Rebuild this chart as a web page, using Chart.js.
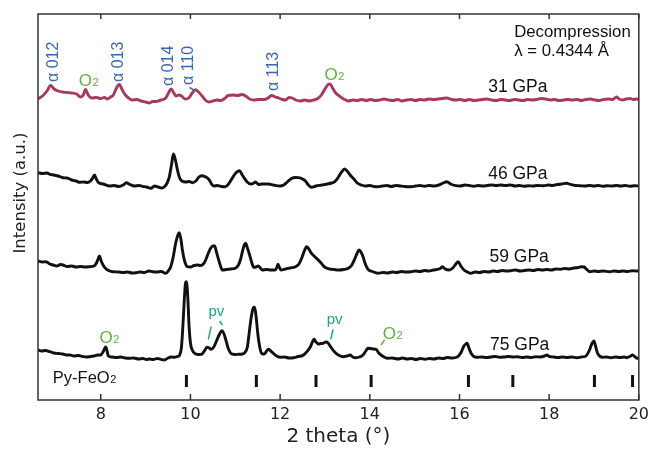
<!DOCTYPE html>
<html lang="en">
<head>
<meta charset="UTF-8">
<title>Py-FeO2 decompression XRD</title>
<script src="https://cdn.jsdelivr.net/npm/chart.js"></script>
<style>
    body { margin: 0; background: #fff; }
    .chart-box { width: 654px; height: 449px; }
</style>
</head>
<body>
<div class="chart-box"><canvas id="xrdChart"></canvas></div>
<script>
// each pattern: [2 theta, intensity above its own baseline]
const p31 = [[6.60,1],[6.70,4],[6.80,9],[6.88,14.5],[6.96,11],[7.05,9],[7.15,8],[7.25,7.5],[7.35,7],[7.46,6],[7.55,3],[7.61,5],[7.66,10.5],[7.72,5],[7.80,2],[7.90,2.5],[8.00,1.5],[8.08,2.5],[8.15,1],[8.22,3],[8.28,5],[8.34,11],[8.41,15.5],[8.48,10],[8.55,5],[8.62,2],[8.70,0],[8.80,0.5],[8.90,-1],[9.00,-2],[9.08,-3],[9.16,-1.5],[9.24,-1.5],[9.34,0],[9.44,1.5],[9.51,7],[9.57,11],[9.63,7],[9.68,4],[9.74,5],[9.80,4],[9.88,1],[9.96,2],[10.04,7],[10.11,10.3],[10.18,8],[10.26,4],[10.33,0],[10.41,-2],[10.50,-1],[10.59,0],[10.68,-0.5],[10.76,1.5],[10.84,4.5],[10.95,5],[11.05,4.5],[11.15,5.5],[11.23,4],[11.32,1],[11.41,0],[11.52,0.5],[11.64,0.5],[11.73,2],[11.81,4.5],[11.89,3],[11.97,2],[12.05,0.5],[12.12,0],[12.20,2.5],[12.27,2],[12.35,0],[12.45,-1],[12.55,0],[12.65,-1],[12.75,0],[12.84,1.5],[12.92,5],[13.00,11],[13.07,15.5],[13.11,16],[13.17,12],[13.24,7],[13.32,4],[13.42,1],[13.52,-1],[13.62,0],[13.72,-0.5],[13.82,0.5],[13.92,-0.5],[14.02,0.5],[14.12,-0.5],[14.22,0],[14.32,1],[14.42,0],[14.52,-0.5],[14.62,0.5],[14.72,-1],[14.82,0],[14.92,0.5],[15.02,-0.5],[15.12,0.5],[15.22,0],[15.32,1],[15.42,0.5],[15.52,1],[15.62,1.5],[15.72,2],[15.82,0.5],[15.92,0],[16.02,0.5],[16.12,-0.5],[16.22,0.5],[16.32,-0.5],[16.42,0],[16.52,0.5],[16.62,1],[16.72,0],[16.82,-0.5],[16.92,0.5],[17.02,0],[17.12,-0.5],[17.22,0.5],[17.32,0],[17.42,-0.5],[17.52,0.5],[17.62,0],[17.72,0.5],[17.82,1.5],[17.92,1],[18.02,0],[18.12,0.5],[18.22,-0.5],[18.32,0],[18.42,0.5],[18.52,0],[18.62,0.5],[18.72,-0.5],[18.82,0.5],[18.92,1],[19.02,0],[19.12,-0.5],[19.22,0.5],[19.32,1],[19.42,0.5],[19.50,3],[19.56,1],[19.64,0],[19.72,1],[19.80,1.5],[19.88,0.5],[19.95,1],[20.00,0.5]];

const p46 = [[6.60,13.3],[6.70,12.5],[6.80,13],[6.87,11.7],[6.95,11],[7.05,10],[7.16,8.3],[7.25,8],[7.35,6],[7.45,5],[7.53,3.7],[7.62,4],[7.70,3.5],[7.77,5],[7.82,8],[7.86,11],[7.90,7],[7.95,3.3],[8.05,2],[8.20,0],[8.30,0.5],[8.40,-0.5],[8.50,1],[8.57,3.3],[8.65,1.5],[8.75,0],[8.85,0.5],[8.93,-0.3],[9.02,-1],[9.12,-2.3],[9.20,0],[9.28,-1],[9.36,-2],[9.42,-0.7],[9.48,3],[9.53,9.3],[9.58,22],[9.62,32],[9.66,27],[9.71,16],[9.76,8],[9.81,5],[9.90,4],[9.97,4.5],[10.04,3.3],[10.12,5],[10.19,9],[10.25,10.3],[10.32,9.5],[10.41,6.7],[10.47,2],[10.52,0],[10.60,0.5],[10.70,-0.5],[10.78,-0.7],[10.85,2],[10.93,7.7],[11.01,13],[11.09,15.3],[11.17,10],[11.26,4.3],[11.34,2],[11.40,2.5],[11.45,4],[11.52,1.5],[11.60,2],[11.74,2],[11.85,1],[12.00,0],[12.08,1],[12.16,4],[12.26,7.7],[12.34,8.5],[12.41,8.3],[12.50,7],[12.56,5.3],[12.63,1],[12.70,-1.3],[12.80,0],[12.93,1],[13.05,2],[13.15,3],[13.22,4.3],[13.30,9],[13.37,14],[13.44,17],[13.51,14],[13.58,10],[13.63,7.7],[13.72,3],[13.81,1],[13.90,0],[14.00,0.5],[14.10,-0.5],[14.18,-0.7],[14.28,0],[14.38,0.5],[14.48,-0.5],[14.58,0.5],[14.68,0],[14.78,-0.5],[14.92,-0.7],[15.02,0],[15.12,0.5],[15.22,-0.3],[15.32,0.5],[15.44,0],[15.54,1],[15.64,3],[15.72,4.3],[15.80,2],[15.92,0.3],[16.02,0],[16.12,1],[16.22,0.5],[16.32,-0.3],[16.42,0.5],[16.52,0],[16.62,0.5],[16.72,1],[16.82,0.5],[16.92,1],[17.02,0.5],[17.14,1],[17.24,0],[17.34,0.5],[17.44,-0.3],[17.54,0.3],[17.64,0],[17.74,0.5],[17.88,0.3],[17.98,1],[18.08,0.5],[18.18,1.5],[18.28,2],[18.39,2.7],[18.48,1.5],[18.58,0.5],[18.69,0.3],[18.80,0],[18.90,0.5],[19.00,0],[19.10,0.5],[19.20,-0.3],[19.30,0.3],[19.40,0],[19.50,0.5],[19.60,0],[19.70,0.5],[19.80,-0.3],[19.90,0.3],[20.00,0]];

const p59 = [[6.60,9],[6.70,8],[6.78,8.3],[6.86,6],[6.94,5],[7.02,4],[7.10,5.5],[7.16,5],[7.25,3.5],[7.35,4],[7.45,3],[7.55,3.5],[7.65,3],[7.75,3.3],[7.85,4],[7.90,6.7],[7.94,11],[7.97,14],[8.01,9],[8.05,5],[8.12,1],[8.20,-1],[8.27,-1.7],[8.40,-2],[8.50,-2.5],[8.60,-2],[8.70,-3],[8.79,-2.7],[8.88,-2],[8.97,-2.5],[9.07,-1],[9.16,-1.7],[9.25,-2],[9.35,-1.5],[9.45,-3.3],[9.52,0],[9.56,3.3],[9.62,14],[9.67,26.7],[9.72,35],[9.75,37.3],[9.79,30],[9.82,20],[9.87,9],[9.93,3.3],[10.00,3],[10.08,4.5],[10.15,5],[10.22,4.5],[10.29,6],[10.34,10],[10.40,17],[10.45,21.7],[10.50,24],[10.54,24],[10.58,18],[10.62,11.7],[10.67,4],[10.71,0],[10.80,0.5],[10.90,1],[11.00,1.7],[11.07,5],[11.12,11],[11.15,16.7],[11.20,25],[11.23,26.7],[11.27,22],[11.32,15],[11.37,7],[11.41,2.7],[11.46,3],[11.51,4],[11.56,2],[11.60,0],[11.70,0.5],[11.80,0],[11.89,0],[11.93,3],[11.95,5.7],[11.98,3],[12.02,0],[12.12,1],[12.22,2],[12.34,3.3],[12.42,6],[12.48,11.7],[12.54,19],[12.59,23.3],[12.64,21],[12.70,16.7],[12.78,13],[12.89,8.3],[12.95,5],[13.00,2.7],[13.10,1],[13.20,0.5],[13.30,0],[13.42,0.5],[13.52,1.7],[13.60,5],[13.67,11.7],[13.72,17],[13.76,20],[13.80,18],[13.85,13.3],[13.90,6],[13.96,0.7],[14.06,-1.5],[14.18,-3.3],[14.30,-2.5],[14.40,-3],[14.50,-2],[14.60,-2.5],[14.70,-1.5],[14.80,-2],[14.92,-1.7],[15.02,-1],[15.12,-1.5],[15.22,-0.5],[15.32,-1],[15.42,0],[15.51,0.7],[15.57,1.5],[15.62,3.3],[15.68,1],[15.77,0],[15.85,2],[15.92,6],[15.97,8.3],[16.03,4],[16.10,0],[16.18,-2],[16.25,-3.3],[16.35,-2],[16.45,-2.5],[16.55,-1.5],[16.65,-2],[16.75,-1],[16.85,-1.5],[16.95,-0.5],[17.05,-1],[17.14,-0.7],[17.25,0],[17.35,-1],[17.45,-0.5],[17.55,0],[17.65,-0.5],[17.75,0.5],[17.85,0],[17.95,0.5],[18.05,0],[18.15,1],[18.25,0.7],[18.35,1.5],[18.45,1],[18.55,2],[18.65,2.5],[18.72,3.3],[18.78,3],[18.84,0.5],[18.91,-1.7],[19.00,-1],[19.10,-1.5],[19.20,-1],[19.35,-1.7],[19.45,-1],[19.55,-1.5],[19.65,-1],[19.75,-1.5],[19.85,-0.7],[19.95,-1],[20.00,-0.7]];

const p75 = [[6.60,7],[6.68,6],[6.76,6.5],[6.87,5.3],[6.96,4],[7.05,3.5],[7.15,3],[7.23,2],[7.31,2],[7.40,1],[7.50,1.5],[7.60,0.5],[7.68,0],[7.75,0.3],[7.85,1],[7.93,2],[8.00,2],[8.05,5],[8.08,8],[8.11,10],[8.14,6],[8.17,1],[8.25,0],[8.35,-0.5],[8.45,0],[8.55,-1],[8.64,-1.3],[8.74,-1],[8.84,-2],[8.94,-1.5],[9.02,-2.5],[9.08,-2],[9.17,-2.5],[9.26,-1.5],[9.34,-2.3],[9.42,-3],[9.50,-1],[9.57,0],[9.64,-0.3],[9.71,0.5],[9.76,2],[9.80,10],[9.83,30],[9.86,55],[9.89,74],[9.91,75.3],[9.94,60],[9.97,30.3],[10.00,14],[10.04,7],[10.10,3.5],[10.15,2.7],[10.21,2.5],[10.26,3],[10.31,6],[10.37,9.7],[10.42,9],[10.46,7.7],[10.52,10],[10.59,17],[10.65,23],[10.70,26.3],[10.74,24],[10.79,17],[10.84,9],[10.90,3.7],[10.98,2.5],[11.08,2.7],[11.16,3],[11.21,4.3],[11.27,10],[11.30,20.3],[11.35,38],[11.40,49],[11.43,49.7],[11.46,42],[11.51,20.3],[11.55,9],[11.57,5.3],[11.62,3],[11.65,3],[11.70,6],[11.74,7.7],[11.79,6],[11.85,3.7],[11.92,1],[12.01,-0.3],[12.10,0],[12.20,-1],[12.30,-0.7],[12.40,0.5],[12.47,1],[12.52,2],[12.59,5],[12.67,9.7],[12.73,16],[12.76,17.7],[12.80,15],[12.85,13],[12.91,13.5],[12.96,13.7],[13.02,15],[13.07,14],[13.13,10],[13.21,5.3],[13.30,2],[13.41,0.3],[13.49,1],[13.56,2],[13.62,0],[13.69,-0.7],[13.77,0],[13.85,2],[13.91,6],[13.96,8.7],[14.02,8.5],[14.08,8],[14.14,7.7],[14.20,4],[14.25,2],[14.32,0],[14.40,-1.3],[14.50,-1],[14.63,-2],[14.73,-1],[14.83,-2],[14.93,-1.5],[15.03,-2.5],[15.13,-1.5],[15.23,-2.3],[15.33,-1.5],[15.43,-2],[15.53,-1],[15.63,-1.5],[15.73,-0.5],[15.83,-1],[15.92,-0.5],[15.98,1],[16.04,5],[16.09,10.3],[16.14,13],[16.17,13.7],[16.21,9],[16.26,3.7],[16.32,0.5],[16.40,-0.3],[16.50,0],[16.60,-0.5],[16.70,0],[16.80,0.5],[16.90,-0.3],[17.00,0],[17.10,0.5],[17.20,0],[17.29,0.3],[17.40,-0.5],[17.50,0],[17.60,-0.5],[17.70,0.3],[17.80,0],[17.90,1],[17.95,2],[18.00,0.5],[18.10,0],[18.20,-0.5],[18.30,0],[18.40,-0.5],[18.50,0],[18.62,-0.7],[18.72,0],[18.80,0.5],[18.84,2],[18.90,7],[18.95,13],[19.00,16],[19.04,10],[19.08,3.7],[19.14,0.5],[19.19,-0.3],[19.28,0],[19.38,-0.7],[19.48,0],[19.58,-0.5],[19.68,0],[19.72,-0.7],[19.80,0.5],[19.86,2],[19.92,0],[19.96,-1.3],[20.00,-1]];

const pressures = ['31 GPa', '46 GPa', '59 GPa', '75 GPa'];
const offsets = [300, 214, 130, 43];          // vertical stacking of the patterns
const lineColors = ['#a8385e', '#111', '#111', '#111'];
const xTicks = [8, 10, 12, 14, 16, 18, 20];
const pyFeO2 = [9.91, 11.47, 12.80, 14.03, 16.20, 17.19, 19.01, 19.86];   // reference peak positions

// annotation anchors, in axis units
const pressureLabels = [[16.64, 308.3], [16.64, 220.7], [16.67, 138.3], [16.68, 50]];
const alphaLabels = [['α 012', 6.94, 318], ['α 013', 8.40, 318], ['α 014', 9.51, 314], ['α 110', 9.95, 315], ['α 113', 11.85, 309]];
const o2Labels = [[7.51, 314], [12.99, 320], [7.97, 56.7], [14.29, 60.7]];
const pvLabels = [[10.40, 84], [13.04, 76.5]];

const SANS = '"Liberation Sans", Arial, sans-serif';
const DEJAVU = '"DejaVu Sans", sans-serif';

const patterns = [p31, p46, p59, p75];

const datasets = patterns.map((pat, i) => ({
    label: pressures[i],
    data: pat.map(([t, v]) => ({ x: t, y: v + offsets[i] })),
    borderColor: lineColors[i],
    borderWidth: 2.9,
    pointRadius: 0,
    cubicInterpolationMode: 'monotone',
    borderJoinStyle: 'round'
}));

datasets.push({
    label: 'Py-FeO2',
    data: pyFeO2.map(t => ({ x: t, y: 19 })),
    showLine: false,
    pointStyle: 'line',
    rotation: 90,
    pointRadius: 6,
    pointBorderWidth: 3,
    borderColor: '#111',
    pointBorderColor: '#111'
});

function withSub(ctx, main, sub, px, py, size, color) {
    ctx.fillStyle = color;
    ctx.textAlign = 'left';
    ctx.textBaseline = 'alphabetic';
    ctx.font = size + 'px ' + SANS;
    ctx.fillText(main, px, py);
    const w = ctx.measureText(main).width;
    ctx.font = Math.round(size * 0.65) + 'px ' + SANS;
    ctx.fillText(sub, px + w + 0.5, py);
}

function seg(ctx, x, y, a, b, color) {
    ctx.strokeStyle = color;
    ctx.lineWidth = 1.5;
    ctx.beginPath();
    ctx.moveTo(x.getPixelForValue(a[0]), y.getPixelForValue(a[1]));
    ctx.lineTo(x.getPixelForValue(b[0]), y.getPixelForValue(b[1]));
    ctx.stroke();
}

const decor = {
    id: 'decor',
    afterDatasetsDraw(chart) {
        const { ctx, chartArea: a, scales: { x, y } } = chart;
        const X = v => x.getPixelForValue(v);
        const Y = v => y.getPixelForValue(v);
        ctx.save();

        // frame with inward ticks
        ctx.strokeStyle = '#333';
        ctx.lineWidth = 1.5;
        ctx.strokeRect(a.left, a.top, a.right - a.left, a.bottom - a.top);
        xTicks.forEach(v => {
            ctx.beginPath();
            ctx.moveTo(X(v), a.top);
            ctx.lineTo(X(v), a.top + 5);
            ctx.moveTo(X(v), a.bottom);
            ctx.lineTo(X(v), a.bottom - 6);
            ctx.stroke();
        });

        // pressure labels
        ctx.fillStyle = '#111';
        ctx.font = '17.5px ' + SANS;
        ctx.textAlign = 'left';
        ctx.textBaseline = 'alphabetic';
        pressureLabels.forEach(([t, v], i) => ctx.fillText(pressures[i], X(t), Y(v)));

        ctx.font = '16.8px ' + SANS;
        ctx.fillText('Decompression', X(17.22), Y(362.7));
        ctx.fillText('λ = 0.4344 Å', X(17.22), Y(344));

        withSub(ctx, 'Py-FeO', '2', X(6.93), Y(16.7), 16.5, '#111');

        // alpha phase reflections, rotated
        ctx.fillStyle = '#3767b1';
        ctx.font = '16px ' + SANS;
        alphaLabels.forEach(([txt, t, v]) => {
            ctx.save();
            ctx.translate(X(t), Y(v));
            ctx.rotate(-Math.PI / 2);
            ctx.textAlign = 'left';
            ctx.textBaseline = 'middle';
            ctx.fillText(txt, 0, 0);
            ctx.restore();
        });
        seg(ctx, x, y, [9.98, 312.7], [10.09, 309.3], '#3767b1');

        // O2 and pv markers
        o2Labels.forEach(([t, v]) => withSub(ctx, 'O', '2', X(t), Y(v), 17, '#5db33f'));
        seg(ctx, x, y, [14.25, 55], [14.33, 60], '#5db33f');

        ctx.fillStyle = '#1fa67a';
        ctx.font = '15px ' + SANS;
        ctx.textAlign = 'left';
        ctx.textBaseline = 'alphabetic';
        pvLabels.forEach(([t, v]) => ctx.fillText('pv', X(t), Y(v)));
        seg(ctx, x, y, [10.40, 60.7], [10.46, 73.3], '#1fa67a');
        seg(ctx, x, y, [10.65, 79], [10.71, 75], '#1fa67a');
        seg(ctx, x, y, [13.13, 60.7], [13.18, 70.7], '#1fa67a');

        // y axis title
        ctx.fillStyle = '#222';
        ctx.font = '16.5px ' + DEJAVU;
        ctx.translate(20.5, 193);
        ctx.rotate(-Math.PI / 2);
        ctx.textAlign = 'center';
        ctx.textBaseline = 'middle';
        ctx.fillText('Intensity (a.u.)', 0, 0);
        ctx.restore();
    }
};

new Chart(document.getElementById('xrdChart'), {
    type: 'line',
    data: { datasets },
    options: {
        responsive: true,
        maintainAspectRatio: false,
        animation: false,
        layout: { padding: { left: 38, right: 11.5, top: 14, bottom: 0 } },
        plugins: { legend: { display: false }, tooltip: { enabled: false } },
        scales: {
            x: {
                type: 'linear',
                min: 6.6,
                max: 20,
                grid: { display: false, drawTicks: false },
                border: { display: false },
                afterBuildTicks: s => { s.ticks = xTicks.map(v => ({ value: v })); },
                afterFit: s => { s.height = 49; },
                ticks: { padding: 5, color: '#222', font: { family: DEJAVU, size: 16 }, maxRotation: 0 },
                title: { display: true, text: '2 theta (°)', color: '#222', padding: 0, font: { family: DEJAVU, size: 20 } }
            },
            y: { display: false, min: 0, max: 386 }
        }
    },
    plugins: [decor]
});
</script>
</body>
</html>
